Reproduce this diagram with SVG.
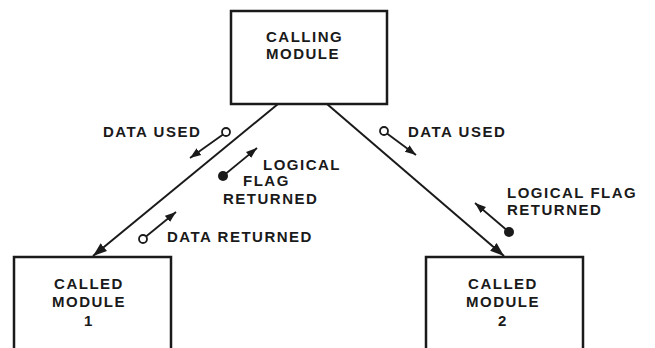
<svg xmlns="http://www.w3.org/2000/svg" width="655" height="348" viewBox="0 0 655 348">
<style>
.box{fill:#fff;stroke:#1a1a1a;stroke-width:2.5}
.t{font-family:"Liberation Sans",Arial,sans-serif;font-weight:bold;font-size:15px;letter-spacing:1.5px;fill:#1a1a1a}
.c{text-anchor:middle}
.ln{stroke:#1a1a1a;stroke-width:2;fill:none}
.sm{stroke:#1a1a1a;stroke-width:1.8;fill:none}
.oc{fill:#fff;stroke:#1a1a1a;stroke-width:1.8}
.fc{fill:#1a1a1a}
</style>
<defs>
<marker id="ah" markerUnits="userSpaceOnUse" markerWidth="16" markerHeight="12" refX="14" refY="6" orient="auto" viewBox="0 0 16 12">
<path d="M0,1 L14,6 L0,11 Z" fill="#1a1a1a"/>
</marker>
<marker id="as" markerUnits="userSpaceOnUse" markerWidth="12" markerHeight="10" refX="11" refY="5" orient="auto" viewBox="0 0 12 10">
<path d="M0,1 L11,5 L0,9 Z" fill="#1a1a1a"/>
</marker>
</defs>
<g id="connectors">
<line class="ln" x1="278" y1="104" x2="93" y2="256" marker-end="url(#ah)"/>
<line class="ln" x1="327" y1="104" x2="504" y2="256" marker-end="url(#ah)"/>
</g>
<g id="calling-module">
<rect class="box" x="231" y="11" width="156" height="93"/>
<text class="t" x="266" y="42">CALLING</text>
<text class="t" x="266" y="59">MODULE</text>
</g>
<g id="called-module-1">
<rect class="box" x="14" y="257" width="157" height="100"/>
<text class="t c" x="89" y="289">CALLED</text>
<text class="t c" x="89" y="307">MODULE</text>
<text class="t c" x="89" y="326">1</text>
</g>
<g id="called-module-2">
<rect class="box" x="426" y="257" width="157" height="100"/>
<text class="t c" x="503" y="289">CALLED</text>
<text class="t c" x="503" y="307">MODULE</text>
<text class="t c" x="503" y="326">2</text>
</g>
<g id="flow-data-used-1">
<line class="sm" x1="223" y1="134.5" x2="190" y2="158" marker-end="url(#as)"/>
<circle class="oc" cx="226" cy="132" r="4"/>
<text class="t" x="103" y="137">DATA USED</text>
</g>
<g id="flow-flag-1">
<line class="sm" x1="223" y1="176" x2="257" y2="148" marker-end="url(#as)"/>
<circle class="fc" cx="223" cy="176" r="5"/>
<text class="t" x="263" y="170">LOGICAL</text>
<text class="t" x="243" y="186">FLAG</text>
<text class="t" x="223" y="204">RETURNED</text>
</g>
<g id="flow-data-returned-1">
<line class="sm" x1="146" y1="236.5" x2="176" y2="212" marker-end="url(#as)"/>
<circle class="oc" cx="143" cy="239" r="4"/>
<text class="t" x="167" y="242">DATA RETURNED</text>
</g>
<g id="flow-data-used-2">
<line class="sm" x1="387" y1="133.5" x2="416" y2="155" marker-end="url(#as)"/>
<circle class="oc" cx="384" cy="131" r="4"/>
<text class="t" x="408" y="137">DATA USED</text>
</g>
<g id="flow-flag-2">
<line class="sm" x1="509" y1="232" x2="475" y2="203" marker-end="url(#as)"/>
<circle class="fc" cx="509" cy="232" r="5"/>
<text class="t" x="507" y="198">LOGICAL FLAG</text>
<text class="t" x="507" y="215">RETURNED</text>
</g>
</svg>
